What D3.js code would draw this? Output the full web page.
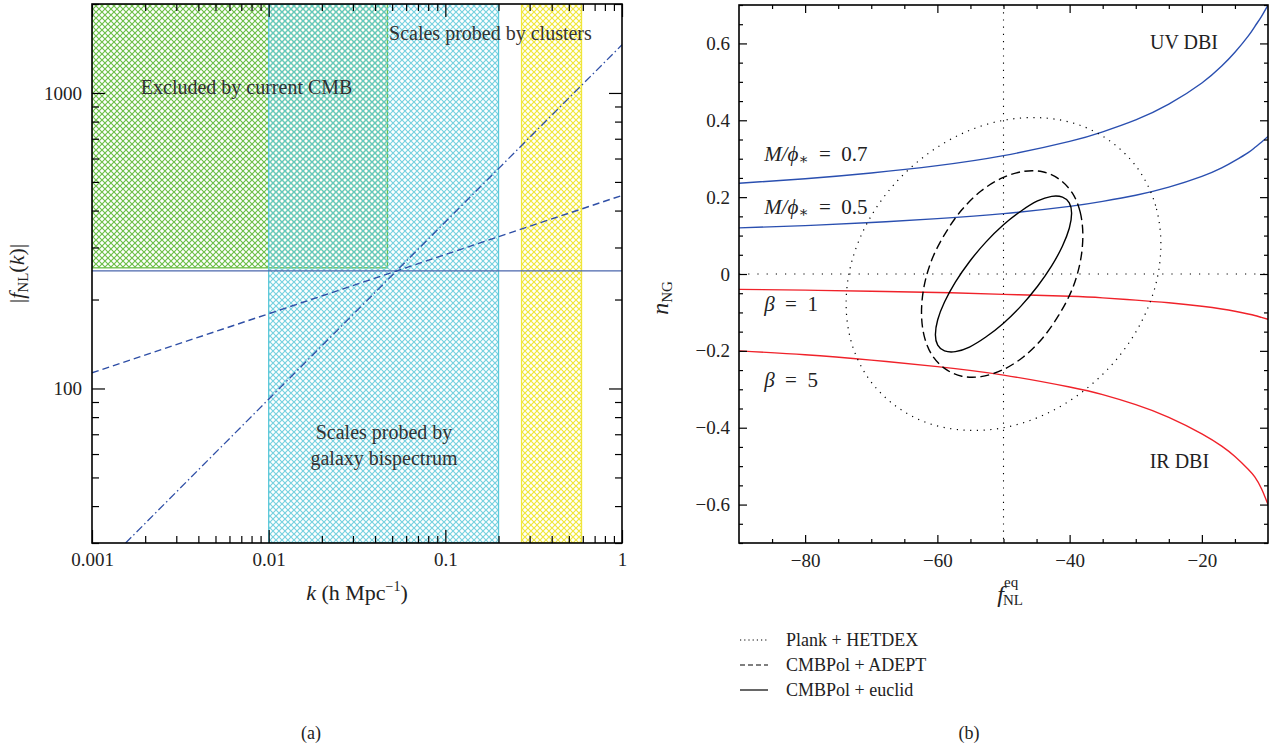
<!DOCTYPE html>
<html><head><meta charset="utf-8">
<script src="https://cdn.jsdelivr.net/npm/d3@7"></script>
<style>
body{margin:0;background:#fff;}
svg{display:block;font-family:"Liberation Serif","DejaVu Serif",serif;}
</style></head><body>
<svg id="c" width="1272" height="744"></svg>
<script>
// ---------------- Panel (a) data ----------------
const kDomain = [0.001, 1];
const fDomain = [30, 2000];
const kMajorTicks = [0.001, 0.01, 0.1, 1];
const kTickLabels = ["0.001", "0.01", "0.1", "1"];
const fMajorTicks = [100, 1000];
const fTickLabels = ["100", "1000"];
const regionIds = ["excl", "galaxy", "clusters"];
const regionColors = ["#6cbf48", "#5ec9da", "#f0e63a"];
const regionKMin = [0.001, 0.01, 0.27];
const regionKMax = [0.047, 0.2, 0.59];
const regionFMin = [256, 30, 30];
const regionFMax = [2000, 2000, 2000];
const constK = [0.001, 1];
const constF = [250, 250];
const dashedK = [0.001, 0.01, 0.1, 1];
const dashedF = [113, 179, 284, 450];
const dashDotK = [0.00155, 0.01, 0.1, 1];
const dashDotF = [30, 92, 366, 1455];
const panelALabels = ["Excluded by current CMB", "Scales probed by clusters", "Scales probed by", "galaxy bispectrum"];
const panelALabelK = [0.0075, 0.18, 0.045, 0.045];
const panelALabelF = [1050, 1600, 71, 58];

// ---------------- Panel (b) data ----------------
const fnlDomain = [-90, -10];
const nngDomain = [-0.7, 0.7];
const fnlTickValues = [-80, -60, -40, -20];
const fnlTickLabels = ["\u221280", "\u221260", "\u221240", "\u221220"];
const nngTickValues = [-0.6, -0.4, -0.2, 0, 0.2, 0.4, 0.6];
const nngTickLabels = ["\u22120.6", "\u22120.4", "\u22120.2", "0", "0.2", "0.4", "0.6"];

const curveFnl = [-90, -80, -70, -60, -50, -40, -35, -30, -25, -20, -17, -15, -13, -12, -11, -10];
const uv07    = [0.236, 0.248, 0.263, 0.282, 0.308, 0.345, 0.370, 0.401, 0.442, 0.497, 0.541, 0.577, 0.619, 0.644, 0.670, 0.700];
const uv05    = [0.120, 0.126, 0.134, 0.144, 0.157, 0.176, 0.189, 0.205, 0.226, 0.254, 0.276, 0.295, 0.316, 0.329, 0.343, 0.358];
const irBeta1 = [-0.040, -0.042, -0.045, -0.048, -0.053, -0.058, -0.062, -0.068, -0.075, -0.084, -0.091, -0.097, -0.104, -0.108, -0.113, -0.118];
const irBeta5 = [-0.200, -0.210, -0.224, -0.241, -0.263, -0.294, -0.314, -0.340, -0.373, -0.416, -0.448, -0.475, -0.508, -0.528, -0.558, -0.600];

const plankX = [-26.2, -27.0, -29.4, -33.2, -38.1, -43.8, -50.0, -56.2, -61.9, -66.8, -70.6, -73.0, -73.8, -73.0, -70.6, -66.8, -61.9, -56.2, -50.0, -43.8, -38.1, -33.2, -29.4, -27.0];
const plankY = [0.077, 0.178, 0.267, 0.337, 0.385, 0.406, 0.400, 0.366, 0.307, 0.228, 0.133, 0.029, -0.077, -0.178, -0.267, -0.337, -0.385, -0.406, -0.400, -0.366, -0.307, -0.228, -0.133, -0.029];
const adeptX = [-38.0, -38.4, -39.6, -41.6, -44.1, -47.0, -50.2, -53.4, -56.3, -58.8, -60.8, -62.0, -62.4, -62.0, -60.8, -58.8, -56.3, -53.4, -50.2, -47.0, -44.1, -41.6, -39.6, -38.4];
const adeptY = [0.100, 0.161, 0.211, 0.247, 0.266, 0.267, 0.250, 0.216, 0.167, 0.106, 0.039, -0.031, -0.100, -0.161, -0.211, -0.247, -0.266, -0.267, -0.250, -0.216, -0.167, -0.106, -0.039, 0.031];
const euclidX = [-39.7, -40.05, -41.08, -42.72, -44.85, -47.33, -50.0, -52.67, -55.15, -57.28, -58.92, -59.95, -60.3, -59.95, -58.92, -57.28, -55.15, -52.67, -50.0, -47.33, -44.85, -42.72, -41.08, -40.05];
const euclidY = [0.158, 0.185, 0.200, 0.202, 0.190, 0.164, 0.128, 0.083, 0.032, -0.021, -0.073, -0.119, -0.158, -0.185, -0.200, -0.202, -0.190, -0.164, -0.128, -0.083, -0.032, 0.021, 0.073, 0.119];

const legendLabels = ["Plank + HETDEX", "CMBPol + ADEPT", "CMBPol + euclid"];
const legendDash = ["1.2,3", "5,3", null];

const FONT = '"Liberation Serif","DejaVu Serif",serif';
const svg = d3.select("#c");
const defs = svg.append("defs");

// ---------- hatch patterns ----------
regionIds.forEach((id, i) => {
  const p = defs.append("pattern").attr("id", "hatch-" + id)
    .attr("patternUnits", "userSpaceOnUse").attr("width", 6).attr("height", 6);
  p.append("path").attr("d", "M0,0L6,6M0,6L6,0")
    .attr("stroke", regionColors[i]).attr("stroke-width", 1.2).attr("fill", "none");
});

// ================= PANEL (a) =================
const A = {x0: 92, x1: 622, y0: 4, y1: 543};
const xA = d3.scaleLog().domain(kDomain).range([A.x0, A.x1]);
const yA = d3.scaleLog().domain(fDomain).range([A.y1, A.y0]);
const gA = svg.append("g");

const clipA = defs.append("clipPath").attr("id", "clipA");
clipA.append("rect").attr("x", A.x0).attr("y", A.y0).attr("width", A.x1 - A.x0).attr("height", A.y1 - A.y0);

const regG = gA.append("g").attr("clip-path", "url(#clipA)");
regionIds.forEach((id, i) => {
  regG.append("rect")
    .attr("x", xA(regionKMin[i])).attr("y", yA(regionFMax[i]))
    .attr("width", xA(regionKMax[i]) - xA(regionKMin[i]))
    .attr("height", yA(regionFMin[i]) - yA(regionFMax[i]))
    .attr("fill", "url(#hatch-" + id + ")")
    .attr("fill-opacity", id === "galaxy" ? 0.85 : 1)
    .attr("stroke", regionColors[i]).attr("stroke-width", 1.3);
});

const lineA = d3.line().x(d => xA(d[0])).y(d => yA(d[1]));
const linesG = gA.append("g").attr("clip-path", "url(#clipA)");
linesG.append("path").attr("d", lineA(d3.zip(constK, constF)))
  .attr("fill", "none").attr("stroke", "#4a66ac").attr("stroke-width", 1.2);
linesG.append("path").attr("d", lineA(d3.zip(dashedK, dashedF)))
  .attr("fill", "none").attr("stroke", "#2f4fa6").attr("stroke-width", 1.4).attr("stroke-dasharray", "7,4");
linesG.append("path").attr("d", lineA(d3.zip(dashDotK, dashDotF)))
  .attr("fill", "none").attr("stroke", "#2f4fa6").attr("stroke-width", 1.3).attr("stroke-dasharray", "8,3,1.5,3");

panelALabels.forEach((t, i) => {
  gA.append("text").attr("x", xA(panelALabelK[i])).attr("y", yA(panelALabelF[i]))
    .attr("text-anchor", "middle").attr("dominant-baseline", "central")
    .attr("font-size", 20).attr("fill", "#333").text(t);
});

function logMinor(dom) {
  const out = [];
  for (let e = Math.floor(Math.log10(dom[0])); e <= Math.ceil(Math.log10(dom[1])); e++) {
    for (let m = 2; m <= 9; m++) {
      const v = m * Math.pow(10, e);
      if (v >= dom[0] && v <= dom[1]) out.push(v);
    }
  }
  return out;
}
const kMinor = logMinor(kDomain);
const fMinor = logMinor(fDomain);

function styleAxis(sel, fs) {
  sel.select(".domain").remove();
  sel.selectAll(".tick line").attr("stroke", "#000").attr("stroke-width", 1.2);
  sel.selectAll("text").attr("font-size", fs).attr("fill", "#222").attr("font-family", FONT);
}
function addAxis(g, axis, tx, ty, fs) {
  g.append("g").attr("transform", `translate(${tx},${ty})`).call(axis).call(s => styleAxis(s, fs));
}
addAxis(gA, d3.axisBottom(xA).tickValues(kMajorTicks).tickSize(-13).tickPadding(10).tickFormat((d, i) => kTickLabels[i]), 0, A.y1, 19);
addAxis(gA, d3.axisBottom(xA).tickValues(kMinor).tickSize(-7).tickFormat(""), 0, A.y1, 19);
addAxis(gA, d3.axisTop(xA).tickValues(kMajorTicks).tickSize(-13).tickFormat(""), 0, A.y0, 19);
addAxis(gA, d3.axisTop(xA).tickValues(kMinor).tickSize(-7).tickFormat(""), 0, A.y0, 19);
addAxis(gA, d3.axisLeft(yA).tickValues(fMajorTicks).tickSize(-13).tickPadding(10).tickFormat((d, i) => fTickLabels[i]), A.x0, 0, 19);
addAxis(gA, d3.axisLeft(yA).tickValues(fMinor).tickSize(-7).tickFormat(""), A.x0, 0, 19);
addAxis(gA, d3.axisRight(yA).tickValues(fMajorTicks).tickSize(-13).tickFormat(""), A.x1, 0, 19);
addAxis(gA, d3.axisRight(yA).tickValues(fMinor).tickSize(-7).tickFormat(""), A.x1, 0, 19);
gA.append("rect").attr("x", A.x0).attr("y", A.y0).attr("width", A.x1 - A.x0).attr("height", A.y1 - A.y0)
  .attr("fill", "none").attr("stroke", "#000").attr("stroke-width", 1.6);

// axis titles (a)
const xtA = gA.append("text").attr("x", (A.x0 + A.x1) / 2).attr("y", 600).attr("text-anchor", "middle")
  .attr("font-size", 22).attr("fill", "#222");
xtA.append("tspan").attr("font-style", "italic").text("k");
xtA.append("tspan").text(" (h Mpc");
xtA.append("tspan").attr("font-size", 14).attr("dy", -9).text("\u22121");
xtA.append("tspan").attr("dy", 9).text(")");

const ytA = gA.append("text").attr("transform", `translate(24,${(A.y0 + A.y1) / 2}) rotate(-90)`)
  .attr("text-anchor", "middle").attr("font-size", 22).attr("fill", "#222");
ytA.append("tspan").text("|");
ytA.append("tspan").attr("font-style", "italic").text("f");
ytA.append("tspan").attr("font-size", 15).attr("dy", 4).text("NL");
ytA.append("tspan").attr("dy", -4).text("(");
ytA.append("tspan").attr("font-style", "italic").text("k");
ytA.append("tspan").text(")|");

svg.append("text").attr("x", 311).attr("y", 739).attr("text-anchor", "middle")
  .attr("font-size", 18).attr("fill", "#222").text("(a)");

// ================= PANEL (b) =================
const B = {x0: 739, x1: 1268, y0: 5, y1: 543};
const xB = d3.scaleLinear().domain(fnlDomain).range([B.x0, B.x1]);
const yB = d3.scaleLinear().domain(nngDomain).range([B.y1, B.y0]);
const gB = svg.append("g");
const clipB = defs.append("clipPath").attr("id", "clipB");
clipB.append("rect").attr("x", B.x0).attr("y", B.y0).attr("width", B.x1 - B.x0).attr("height", B.y1 - B.y0);
const plotB = gB.append("g").attr("clip-path", "url(#clipB)");

plotB.append("line").attr("x1", xB(-50)).attr("x2", xB(-50)).attr("y1", B.y0).attr("y2", B.y1)
  .attr("stroke", "#000").attr("stroke-width", 1.1).attr("stroke-dasharray", "1.2,6");
plotB.append("line").attr("x1", B.x0).attr("x2", B.x1).attr("y1", yB(0)).attr("y2", yB(0))
  .attr("stroke", "#000").attr("stroke-width", 1.1).attr("stroke-dasharray", "1.2,8");

const curveLine = d3.line().x(d => xB(d[0])).y(d => yB(d[1])).curve(d3.curveNatural);
[[uv07, "#2a4fb0"], [uv05, "#2a4fb0"], [irBeta1, "#f0222a"], [irBeta5, "#f0222a"]].forEach(([ys, c]) => {
  plotB.append("path").attr("d", curveLine(d3.zip(curveFnl, ys)))
    .attr("fill", "none").attr("stroke", c).attr("stroke-width", 1.4);
});

const ell = d3.line().x(d => xB(d[0])).y(d => yB(d[1])).curve(d3.curveCardinalClosed.tension(0));
plotB.append("path").attr("d", ell(d3.zip(plankX, plankY)))
  .attr("fill", "none").attr("stroke", "#000").attr("stroke-width", 1.2).attr("stroke-dasharray", "1.2,5.5");
plotB.append("path").attr("d", ell(d3.zip(adeptX, adeptY)))
  .attr("fill", "none").attr("stroke", "#000").attr("stroke-width", 1.4).attr("stroke-dasharray", "9,4.5");
plotB.append("path").attr("d", ell(d3.zip(euclidX, euclidY)))
  .attr("fill", "none").attr("stroke", "#000").attr("stroke-width", 1.4);

function mphi(x, y, val) {
  const t = gB.append("text").attr("x", xB(x)).attr("y", yB(y)).attr("dominant-baseline", "central")
    .attr("font-size", 21).attr("fill", "#222");
  t.append("tspan").attr("font-style", "italic").text("M/\u03d5");
  t.append("tspan").attr("font-size", 15).attr("dy", 5).text("\u2217");
  t.append("tspan").attr("dy", -5).text("\u2002=\u2002" + val);
}
mphi(-86.2, 0.312, "0.7");
mphi(-86.2, 0.174, "0.5");
function beta(x, y, val) {
  const t = gB.append("text").attr("x", xB(x)).attr("y", yB(y)).attr("dominant-baseline", "central")
    .attr("font-size", 21).attr("fill", "#222");
  t.append("tspan").attr("font-style", "italic").text("\u03b2");
  t.append("tspan").text("\u2002=\u2002" + val);
}
beta(-86.2, -0.079, "1");
beta(-86.2, -0.275, "5");
gB.append("text").attr("x", xB(-22.7)).attr("y", yB(0.604)).attr("text-anchor", "middle")
  .attr("dominant-baseline", "central").attr("font-size", 20).attr("fill", "#222").text("UV DBI");
gB.append("text").attr("x", xB(-23.4)).attr("y", yB(-0.487)).attr("text-anchor", "middle")
  .attr("dominant-baseline", "central").attr("font-size", 20).attr("fill", "#222").text("IR DBI");

const fnlMinor = d3.range(-85, -10, 5).filter(v => v % 20 !== 0);
const nngMinor = d3.range(-14, 15).map(i => +(i * 0.05).toFixed(2)).filter(v => Math.abs(Math.round(v * 100)) % 20 !== 0);
addAxis(gB, d3.axisBottom(xB).tickValues(fnlTickValues).tickSize(-8).tickPadding(11).tickFormat((d, i) => fnlTickLabels[i]), 0, B.y1, 19);
addAxis(gB, d3.axisBottom(xB).tickValues(fnlMinor).tickSize(-4).tickFormat(""), 0, B.y1, 19);
addAxis(gB, d3.axisTop(xB).tickValues(fnlTickValues).tickSize(-8).tickFormat(""), 0, B.y0, 19);
addAxis(gB, d3.axisTop(xB).tickValues(fnlMinor).tickSize(-4).tickFormat(""), 0, B.y0, 19);
addAxis(gB, d3.axisLeft(yB).tickValues(nngTickValues).tickSize(-8).tickPadding(9).tickFormat((d, i) => nngTickLabels[i]), B.x0, 0, 19);
addAxis(gB, d3.axisLeft(yB).tickValues(nngMinor).tickSize(-4).tickFormat(""), B.x0, 0, 19);
addAxis(gB, d3.axisRight(yB).tickValues(nngTickValues).tickSize(-8).tickFormat(""), B.x1, 0, 19);
addAxis(gB, d3.axisRight(yB).tickValues(nngMinor).tickSize(-4).tickFormat(""), B.x1, 0, 19);
gB.append("rect").attr("x", B.x0).attr("y", B.y0).attr("width", B.x1 - B.x0).attr("height", B.y1 - B.y0)
  .attr("fill", "none").attr("stroke", "#000").attr("stroke-width", 1.6);

// axis titles (b)
gB.append("text").attr("x", 1004).attr("y", 602).attr("text-anchor", "end").attr("font-size", 24)
  .attr("font-style", "italic").attr("fill", "#222").text("f");
gB.append("text").attr("x", 1004).attr("y", 587).attr("font-size", 15).attr("fill", "#222").text("eq");
gB.append("text").attr("x", 1003).attr("y", 605).attr("font-size", 15).attr("fill", "#222").text("NL");

const ytB = gB.append("text").attr("transform", `translate(668,${(B.y0 + B.y1) / 2 + 24}) rotate(-90)`)
  .attr("text-anchor", "middle").attr("font-size", 24).attr("fill", "#222");
ytB.append("tspan").attr("font-style", "italic").text("n");
ytB.append("tspan").attr("font-size", 15).attr("dy", 4).text("NG");

legendLabels.forEach((t, i) => {
  const y = 640 + i * 25;
  const l = svg.append("line").attr("x1", 740).attr("x2", 768).attr("y1", y).attr("y2", y)
    .attr("stroke", "#000").attr("stroke-width", 1.2);
  if (legendDash[i]) l.attr("stroke-dasharray", legendDash[i]);
  svg.append("text").attr("x", 786).attr("y", y).attr("dominant-baseline", "central")
    .attr("font-size", 18).attr("fill", "#222").text(t);
});
svg.append("text").attr("x", 969).attr("y", 739).attr("text-anchor", "middle")
  .attr("font-size", 18).attr("fill", "#222").text("(b)");
</script>
</body></html>
